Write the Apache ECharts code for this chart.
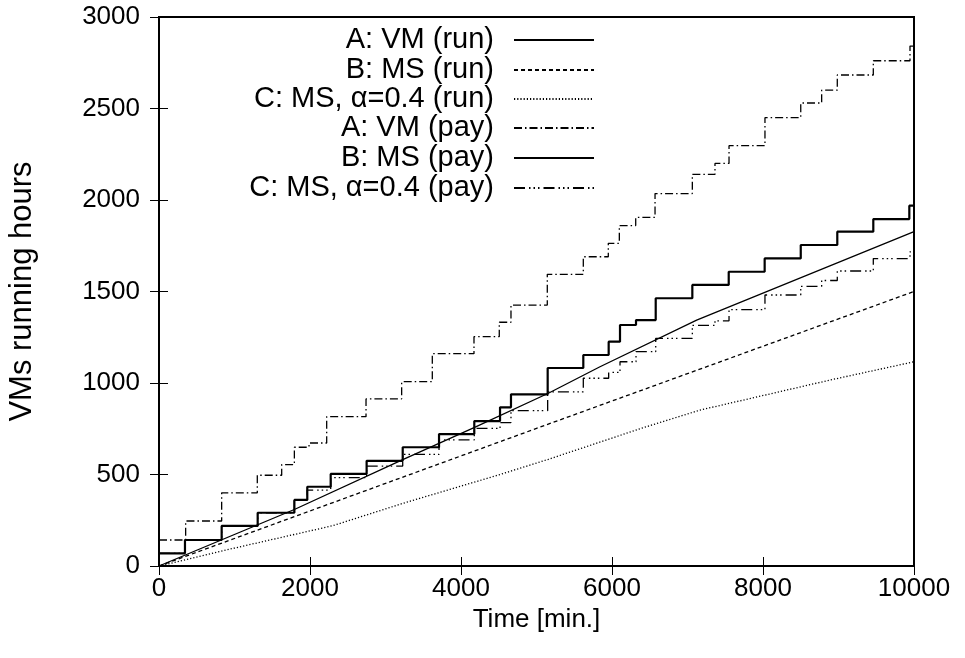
<!DOCTYPE html>
<html><head><meta charset="utf-8">
<script src="https://cdn.jsdelivr.net/npm/echarts/dist/echarts.min.js"></script>
<style>html,body{margin:0;padding:0;background:#fff}#c{width:965px;height:658px}</style>
</head><body><div id="c"></div>
<script>
// ---- data ----
const seriesNames = ['A: VM (run)', 'B: MS (run)', 'C: MS, \u03b1=0.4 (run)', 'A: VM (pay)', 'B: MS (pay)', 'C: MS, \u03b1=0.4 (pay)'];

const aRunX = [0, 1800, 3214, 4180, 5157, 5841, 7121, 10000];
const aRunY = [0, 310, 579, 758, 944, 1089, 1344, 1827];

const bRunX = [0, 5000, 10000];
const bRunY = [0, 752, 1500];

const cRunX = [0, 1000, 2300, 3236, 4517, 5157, 6370, 7166, 8887, 10000];
const cRunY = [0, 98, 220, 343, 500, 583, 750, 852, 1016, 1116];

const aPayX = [0, 353, 830, 1302, 1625, 1793, 1987, 2221, 2742, 3214, 3620, 4172, 4507, 4662, 5143, 5620, 5951, 6097, 6314, 6570, 7064, 7364, 7550, 8026, 8500, 8777, 8984, 9461, 9947, 10000];
const aPayY = [142, 246, 400, 496, 554, 649, 672, 816, 913, 1007, 1160, 1253, 1332, 1426, 1594, 1690, 1763, 1860, 1905, 2035, 2140, 2200, 2297, 2450, 2530, 2600, 2683, 2761, 2841, 2841];

const bPayX = [0, 344, 830, 1307, 1793, 1964, 2274, 2750, 3228, 3709, 4176, 4517, 4662, 5148, 5620, 5956, 6106, 6318, 6579, 7064, 7546, 8022, 8500, 8984, 9461, 9938, 10000];
const bPayY = [69, 142, 219, 291, 361, 433, 503, 575, 649, 721, 792, 867, 938, 1082, 1153, 1226, 1317, 1344, 1463, 1536, 1608, 1681, 1754, 1827, 1896, 1969, 1969];

const cPayX = [0, 344, 830, 1307, 1793, 1964, 2274, 2750, 3228, 3709, 4176, 4517, 4662, 5148, 5620, 5956, 6106, 6318, 6579, 7064, 7364, 7550, 8026, 8500, 8777, 8984, 9461, 9947, 10000];
const cPayY = [69, 142, 219, 291, 361, 415, 483, 546, 610, 689, 752, 783, 849, 952, 1026, 1058, 1116, 1171, 1244, 1315, 1340, 1401, 1481, 1528, 1560, 1612, 1680, 1717, 1717];

const xMin = 0, xMax = 10000, xStep = 2000;
const yMin = 0, yMax = 3000, yStep = 500;

// ---- chart ----
function pts(xs, ys) { return xs.map((x, i) => [x, ys[i]]); }
const FONT = 'Liberation Sans';
const chart = echarts.init(document.getElementById('c'), null, {renderer: 'canvas'});

const styles = [
  {width: 1.3, type: 'solid', step: false},
  {width: 1.3, type: [4, 3], step: false},
  {width: 1.3, type: [1.2, 2], step: false},
  {width: 1.3, type: [8, 3, 1.5, 3], step: 'end'},
  {width: 2.2, type: 'solid', step: 'end'},
  {width: 1.3, type: [11, 4, 1.5, 3, 1.5, 3, 1.5, 4], step: 'end'}
];
const dataSets = [pts(aRunX, aRunY), pts(bRunX, bRunY), pts(cRunX, cRunY), pts(aPayX, aPayY), pts(bPayX, bPayY), pts(cPayX, cPayY)];

const rowCenters = [40, 70, 99, 128, 158, 188];

const axisCommon = {
  type: 'value',
  axisLine: {show: false},
  splitLine: {show: false},
  axisTick: {show: true, inside: true, length: 9, lineStyle: {color: '#000', width: 1}}
};
const plain = v => String(v);

chart.setOption({
  animation: false,
  backgroundColor: '#fff',
  grid: {left: 159, right: 51, top: 17, bottom: 92, show: true, borderColor: '#000', borderWidth: 2,
         containLabel: false, outerBoundsMode: 'none'},
  xAxis: [
    Object.assign({}, axisCommon, {
      min: xMin, max: xMax, interval: xStep, position: 'bottom',
      axisLabel: {fontSize: 26, fontFamily: FONT, color: '#000', margin: 10, formatter: plain},
      name: 'Time [min.]', nameLocation: 'middle', nameGap: 40,
      nameTextStyle: {fontSize: 26, fontFamily: FONT, color: '#000'}
    }),
    Object.assign({}, axisCommon, {
      min: xMin, max: xMax, interval: xStep, position: 'top', axisLabel: {show: false}
    })
  ],
  yAxis: [
    Object.assign({}, axisCommon, {
      min: yMin, max: yMax, interval: yStep, position: 'left',
      axisLabel: {fontSize: 26, fontFamily: FONT, color: '#000', margin: 19, formatter: plain},
      name: 'VMs running hours', nameLocation: 'middle', nameGap: 121,
      nameTextStyle: {fontSize: 31, fontFamily: FONT, color: '#000'}
    }),
    Object.assign({}, axisCommon, {
      min: yMin, max: yMax, interval: yStep, position: 'right', axisLabel: {show: false}
    })
  ],
  legend: seriesNames.map((n, i) => ({
    data: [n],
    orient: 'horizontal',
    right: 370,
    top: rowCenters[i] - 15,
    align: 'right',
    itemWidth: 80,
    itemHeight: 30,
    selectedMode: false,
    padding: 0,
    itemStyle: {opacity: 0},
    textStyle: {fontSize: 29, fontFamily: FONT, color: '#000', padding: [0, 15, 0, 0], lineHeight: 30}
  })),
  series: seriesNames.map((n, i) => ({
    name: n,
    type: 'line',
    xAxisIndex: 0,
    yAxisIndex: 0,
    data: dataSets[i],
    step: styles[i].step,
    symbol: 'none',
    showSymbol: false,
    smooth: false,
    lineStyle: {color: '#000', width: styles[i].width, type: styles[i].type},
    itemStyle: {color: '#000'},
    z: 2
  }))
});
</script>
</body></html>
